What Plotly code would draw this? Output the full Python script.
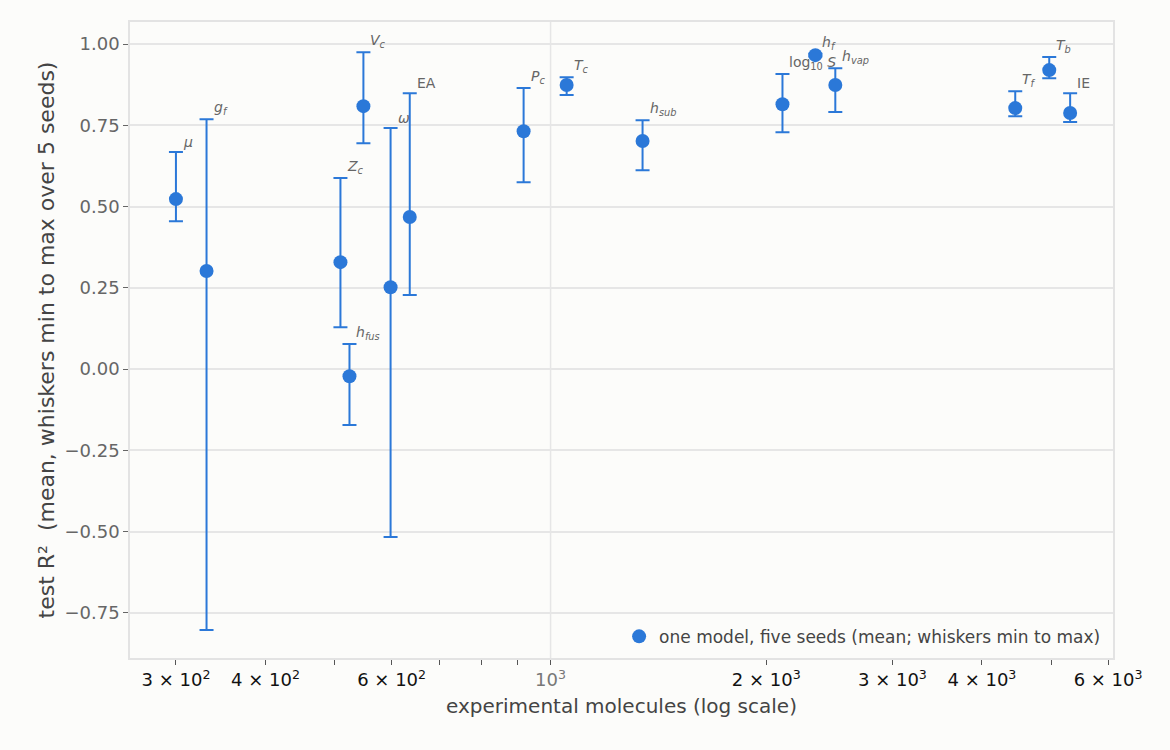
import math
import plotly.graph_objects as go

labels = ["<i>μ</i>", "<i>g<sub>f</sub></i>", "<i>Z<sub>c</sub></i>", "<i>h<sub>fus</sub></i>",
          "<i>V<sub>c</sub></i>", "<i>ω</i>", "EA", "<i>P<sub>c</sub></i>", "<i>T<sub>c</sub></i>",
          "<i>h<sub>sub</sub></i>", "log<sub>10</sub> <i>S</i>", "<i>h<sub>f</sub></i>",
          "<i>h<sub>vap</sub></i>", "<i>T<sub>f</sub></i>", "<i>T<sub>b</sub></i>", "IE"]
n_molecules = [300, 331, 509, 524, 548, 598, 636, 917, 1053, 1344, 2107, 2342, 2497, 4452, 4966, 5311]
r2_mean = [0.523, 0.302, 0.329, -0.022, 0.809, 0.252, 0.468, 0.732, 0.874, 0.702, 0.815, 0.966, 0.874, 0.803, 0.920, 0.788]
r2_max = [0.668, 0.769, 0.588, 0.077, 0.975, 0.742, 0.849, 0.865, 0.898, 0.766, 0.908, 0.970, 0.926, 0.855, 0.960, 0.849]
r2_min = [0.455, -0.803, 0.129, -0.172, 0.695, -0.517, 0.228, 0.575, 0.843, 0.612, 0.729, 0.962, 0.791, 0.778, 0.895, 0.760]

x_tickvals = [300, 400, 600, 1000, 2000, 3000, 4000, 6000]
x_ticktext = ["3 × 10<sup>2</sup>", "4 × 10<sup>2</sup>", "6 × 10<sup>2</sup>",
              "<span style='color:#777777'>10<sup>3</sup></span>", "2 × 10<sup>3</sup>",
              "3 × 10<sup>3</sup>", "4 × 10<sup>3</sup>", "6 × 10<sup>3</sup>"]
x_minor_tickvals = [500, 700, 800, 900, 5000]
y_tickvals = [-0.75, -0.5, -0.25, 0.0, 0.25, 0.5, 0.75, 1.0]
y_ticktext = ["−0.75", "−0.50", "−0.25", "0.00", "0.25", "0.50", "0.75", "1.00"]

color = "#2b78d8"
bg = "#fcfcfa"

fig = go.Figure()
fig.add_trace(go.Scatter(
    x=n_molecules, y=r2_mean, mode="markers",
    marker=dict(color=color, size=14),
    error_y=dict(type="data", symmetric=False,
                 array=[a - m for a, m in zip(r2_max, r2_mean)],
                 arrayminus=[m - b for m, b in zip(r2_mean, r2_min)],
                 color=color, thickness=2, width=7),
    name="one model, five seeds (mean; whiskers min to max)",
    showlegend=True,
))

for lab, x, top in zip(labels, n_molecules, r2_max):
    fig.add_annotation(x=math.log10(x), y=top, xref="x", yref="y", text=lab, showarrow=False,
                       xanchor="left", yanchor="bottom", xshift=5, yshift=0,
                       font=dict(family="DejaVu Sans", size=14, color="#666666"))

fig.add_shape(type="line", xref="x", yref="paper", x0=1000, x1=1000, y0=0, y1=1,
              line=dict(color="#e6e6e6", width=1.5), layer="below")

fig.update_layout(
    width=1170, height=750,
    paper_bgcolor=bg, plot_bgcolor=bg,
    margin=dict(l=130, r=57, t=22, b=92),
    font=dict(family="DejaVu Sans", color="#444444"),
    xaxis=dict(type="log", range=[2.413, 3.785],
               tickmode="array", tickvals=x_tickvals, ticktext=x_ticktext,
               tickfont=dict(family="DejaVu Sans", size=18, color="#111111"),
               ticks="outside", ticklen=5, tickcolor="#555555",
               minor=dict(tickmode="array", tickvals=x_minor_tickvals, ticks="outside",
                          ticklen=5, tickcolor="#555555", showgrid=False),
               showgrid=False, zeroline=False,
               showline=True, mirror=True, linecolor="#e3e3e3", linewidth=1.5,
               title=dict(text="experimental molecules (log scale)",
                          font=dict(size=20, color="#444444"), standoff=10)),
    yaxis=dict(range=[-0.889, 1.068], tickvals=y_tickvals, ticktext=y_ticktext,
               tickfont=dict(size=18, color="#666666"),
               ticks="outside", ticklen=5, tickcolor="#666666",
               showgrid=True, gridcolor="#e6e6e6", gridwidth=1.5, zeroline=False,
               showline=True, mirror=True, linecolor="#e3e3e3", linewidth=1.5,
               title=dict(text="test R²  (mean, whiskers min to max over 5 seeds)",
                          font=dict(size=22, color="#444444"), standoff=4)),
    legend=dict(x=0.993, y=0.005, xanchor="right", yanchor="bottom",
                bgcolor="rgba(0,0,0,0)", font=dict(size=17, color="#444444")),
)

fig.write_html("out.html")
